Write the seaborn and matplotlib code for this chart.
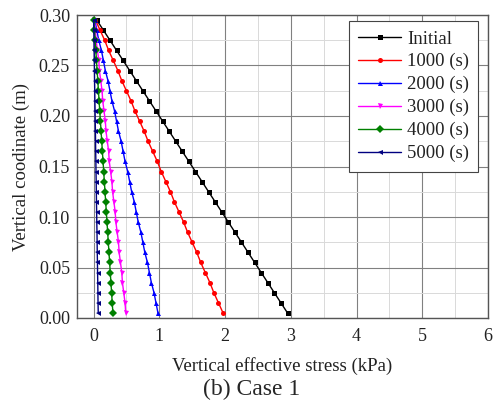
import matplotlib
matplotlib.use("Agg")
import matplotlib.pyplot as plt
import seaborn as sns
from matplotlib.ticker import MultipleLocator, FormatStrFormatter

# depth coordinates of the nodes (m)
depth = [0.295, 0.285, 0.275, 0.265, 0.255, 0.245, 0.235, 0.225, 0.215, 0.205,
         0.195, 0.185, 0.175, 0.165, 0.155, 0.145, 0.135, 0.125, 0.115, 0.105,
         0.095, 0.085, 0.075, 0.065, 0.055, 0.045, 0.035, 0.025, 0.015, 0.005]

# vertical effective stress at each node (kPa)
initial = [0.05, 0.15, 0.25, 0.35, 0.45, 0.55, 0.65, 0.75, 0.85, 0.95,
           1.05, 1.15, 1.25, 1.35, 1.45, 1.55, 1.65, 1.75, 1.85, 1.95,
           2.05, 2.15, 2.25, 2.35, 2.45, 2.55, 2.65, 2.75, 2.85, 2.95]
t1000 = [0.03, 0.10, 0.17, 0.23, 0.30, 0.37, 0.43, 0.50, 0.57, 0.63,
         0.70, 0.77, 0.83, 0.90, 0.97, 1.03, 1.10, 1.17, 1.23, 1.30,
         1.37, 1.43, 1.50, 1.57, 1.63, 1.70, 1.77, 1.83, 1.90, 1.97]
t2000 = [0.02, 0.05, 0.08, 0.12, 0.15, 0.18, 0.22, 0.25, 0.28, 0.32,
         0.35, 0.38, 0.42, 0.45, 0.48, 0.52, 0.55, 0.58, 0.62, 0.65,
         0.68, 0.72, 0.75, 0.78, 0.82, 0.85, 0.88, 0.92, 0.95, 0.98]
t3000 = [0.01, 0.03, 0.04, 0.06, 0.08, 0.09, 0.11, 0.13, 0.14, 0.16,
         0.18, 0.19, 0.21, 0.23, 0.24, 0.26, 0.28, 0.29, 0.31, 0.33,
         0.34, 0.36, 0.38, 0.39, 0.41, 0.43, 0.44, 0.46, 0.48, 0.49]
t4000 = [0.005, 0.015, 0.025, 0.035, 0.045, 0.055, 0.065, 0.075, 0.085, 0.095,
         0.105, 0.115, 0.125, 0.135, 0.145, 0.155, 0.165, 0.175, 0.185, 0.195,
         0.205, 0.215, 0.225, 0.235, 0.245, 0.255, 0.265, 0.275, 0.285, 0.295]
t5000 = [0.002, 0.004, 0.007, 0.009, 0.012, 0.014, 0.016, 0.019, 0.021, 0.024,
         0.026, 0.029, 0.031, 0.033, 0.036, 0.038, 0.041, 0.043, 0.045, 0.048,
         0.050, 0.053, 0.055, 0.057, 0.060, 0.062, 0.065, 0.067, 0.069, 0.072]

labels = ["Initial", "1000 (s)", "2000 (s)", "3000 (s)", "4000 (s)", "5000 (s)"]
series = [initial, t1000, t2000, t3000, t4000, t5000]
colors = ["black", "#ff0000", "#0000ff", "#ff00ff", "#008000", "#000080"]
markers = ["s", "o", "^", "v", "D", "<"]

sns.set_style("white")
plt.rcParams["font.family"] = ["Liberation Serif", "DejaVu Serif"]

fig = plt.figure(figsize=(4.94, 4.0), dpi=100)
ax = fig.add_axes([0.156, 0.205, 0.832, 0.7575])

for vals, lab, c, m in zip(series, labels, colors, markers):
    sns.lineplot(x=vals, y=depth, sort=False, estimator=None, ax=ax,
                 color=c, marker=m, markersize=3.6, markeredgewidth=0,
                 linewidth=1.0, label=lab)

ax.set_xlim(-0.25, 6)
ax.set_ylim(0, 0.30)
ax.xaxis.set_major_locator(MultipleLocator(1))
ax.xaxis.set_minor_locator(MultipleLocator(0.5))
ax.yaxis.set_major_locator(MultipleLocator(0.05))
ax.yaxis.set_minor_locator(MultipleLocator(0.025))
ax.yaxis.set_major_formatter(FormatStrFormatter("%.2f"))

ax.grid(which="major", color="#808080", linewidth=0.8)
ax.grid(which="minor", color="#d9d9d9", linewidth=0.7)
ax.set_axisbelow(True)

ax.tick_params(which="both", direction="in", labelsize=13, colors="#333333",
               labelcolor="#222222")
ax.tick_params(which="major", length=4, width=0.8)
ax.tick_params(which="minor", length=2.5, width=0.6)
ax.tick_params(axis="x", which="major", pad=7)
ax.tick_params(axis="y", which="major", pad=5)
for sp in ax.spines.values():
    sp.set_color("#555555")
    sp.set_linewidth(1.0)

ax.set_xlabel("Vertical effective stress (kPa)", fontsize=13.5, labelpad=9,
              color="#222222")
ax.set_ylabel("Vertical coodinate (m)", fontsize=13.5, labelpad=6,
              color="#222222")

leg = ax.legend(loc="upper right", fontsize=13.5, frameon=True, fancybox=False,
                edgecolor="#444444", framealpha=1, handlelength=2.3,
                handletextpad=0.3, borderpad=0.5, labelspacing=0.3,
                borderaxespad=0, bbox_to_anchor=(0.976, 0.98))
leg.get_frame().set_linewidth(0.8)
for t in leg.get_texts():
    t.set_color("#222222")

fig.text(0.51, 0.0, "(b) Case 1", fontsize=17, ha="center", va="bottom")

fig.savefig("out.png", dpi=100)
